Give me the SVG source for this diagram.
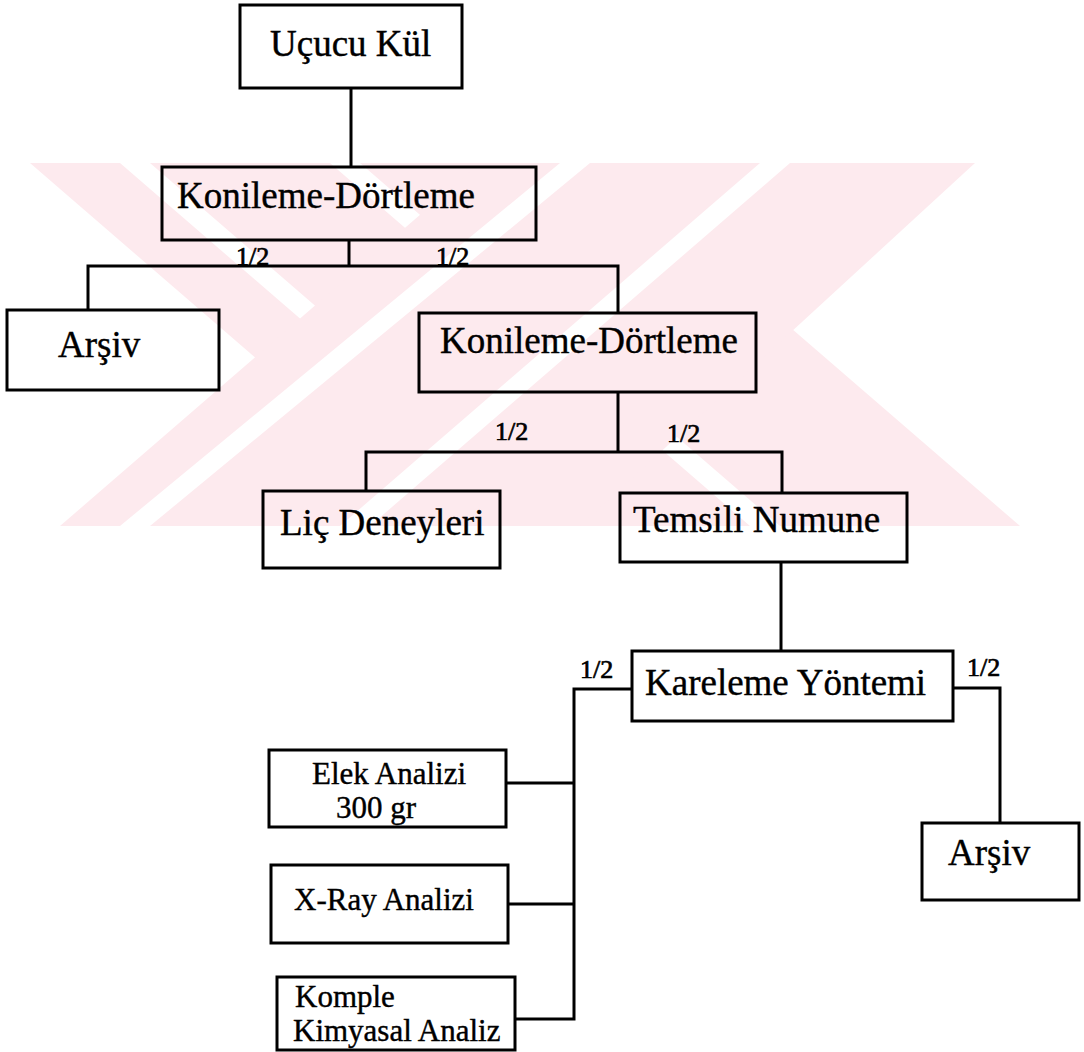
<svg xmlns="http://www.w3.org/2000/svg" width="1084" height="1052" viewBox="0 0 1084 1052">
  <style>
    .box { fill: none; stroke: #000; stroke-width: 3; }
    .wire { fill: none; stroke: #000; stroke-width: 3; }
    .lbl { font-family: "Liberation Serif", "Times New Roman", serif; font-size: 37px; fill: #000; stroke: #000; stroke-width: 0.4; }
    .sm { font-family: "Liberation Serif", "Times New Roman", serif; font-size: 31px; fill: #000; stroke: #000; stroke-width: 0.4; }
    .half { font-family: "Liberation Serif", "Times New Roman", serif; font-size: 26px; fill: #000; stroke: #000; stroke-width: 0.7; }
    .wm { fill: #fdeaee; }
    .wmgap { fill: #fff; }
  </style>
  <defs>
    <clipPath id="wmclip">
      <rect x="0" y="163" width="1084" height="363"/>
    </clipPath>
  </defs>
  <rect width="1084" height="1052" fill="#fff"/>

  <!-- background emblem: a wide striped cross -->
  <g id="emblem" clip-path="url(#wmclip)">
    <polygon class="wm" points="30,163 600,163 1020,526 450,526"/>
    <polygon class="wmgap" points="120,163 150,163 570,526 540,526"/>
    <polygon class="wmgap" points="330,163 360,163 780,526 750,526"/>
    <polygon class="wm" points="480,163 975,163 580,526 60,526"/>
    <polygon class="wmgap" points="560,163 590,163 150,526 120,526"/>
    <polygon class="wmgap" points="760,163 790,163 370,526 340,526"/>
  </g>

  <g id="connectors">
    <polyline class="wire" points="351,88 351,167"/>
    <polyline class="wire" points="349,240 349,266"/>
    <polyline class="wire" points="88,310 88,266 618,266 618,313"/>
    <polyline class="wire" points="618,392 618,452"/>
    <polyline class="wire" points="366,491 366,452 782,452 782,493"/>
    <polyline class="wire" points="781,562 781,651"/>
    <polyline class="wire" points="632,689 574,689 574,1019 515,1019"/>
    <polyline class="wire" points="506,783 574,783"/>
    <polyline class="wire" points="508,904 574,904"/>
    <polyline class="wire" points="953,688 1000,688 1000,823"/>
    <text class="half" x="236" y="265">1/2</text>
    <text class="half" x="436" y="265">1/2</text>
    <text class="half" x="495" y="440">1/2</text>
    <text class="half" x="667" y="442">1/2</text>
    <text class="half" x="580" y="678">1/2</text>
    <text class="half" x="967" y="676">1/2</text>
  </g>

  <g id="ucucu-kul">
    <rect class="box" x="240" y="5" width="222" height="83"/>
    <text class="lbl" x="270" y="56">Uçucu Kül</text>
  </g>
  <g id="konileme-1">
    <rect class="box" x="162" y="167" width="374" height="73"/>
    <text class="lbl" x="177" y="208">Konileme-Dörtleme</text>
  </g>
  <g id="arsiv-1">
    <rect class="box" x="7" y="310" width="212" height="80"/>
    <text class="lbl" x="58" y="357">Arşiv</text>
  </g>
  <g id="konileme-2">
    <rect class="box" x="419" y="313" width="337" height="79"/>
    <text class="lbl" x="440" y="353">Konileme-Dörtleme</text>
  </g>
  <g id="lic-deneyleri">
    <rect class="box" x="263" y="491" width="237" height="77"/>
    <text class="lbl" x="280" y="535">Liç Deneyleri</text>
  </g>
  <g id="temsili-numune">
    <rect class="box" x="620" y="493" width="287" height="69"/>
    <text class="lbl" x="633" y="532">Temsili Numune</text>
  </g>
  <g id="kareleme">
    <rect class="box" x="632" y="651" width="321" height="70"/>
    <text class="lbl" x="645" y="695">Kareleme Yöntemi</text>
  </g>
  <g id="arsiv-2">
    <rect class="box" x="922" y="823" width="157" height="77"/>
    <text class="lbl" x="948" y="865">Arşiv</text>
  </g>
  <g id="elek-analizi">
    <rect class="box" x="269" y="750" width="237" height="77"/>
    <text class="sm" x="312" y="784">Elek Analizi</text>
    <text class="sm" x="336" y="818">300 gr</text>
  </g>
  <g id="xray-analizi">
    <rect class="box" x="271" y="865" width="237" height="78"/>
    <text class="sm" x="294" y="910">X-Ray Analizi</text>
  </g>
  <g id="komple-analiz">
    <rect class="box" x="277" y="977" width="238" height="73"/>
    <text class="sm" x="295" y="1007">Komple</text>
    <text class="sm" x="293" y="1041">Kimyasal Analiz</text>
  </g>
</svg>
